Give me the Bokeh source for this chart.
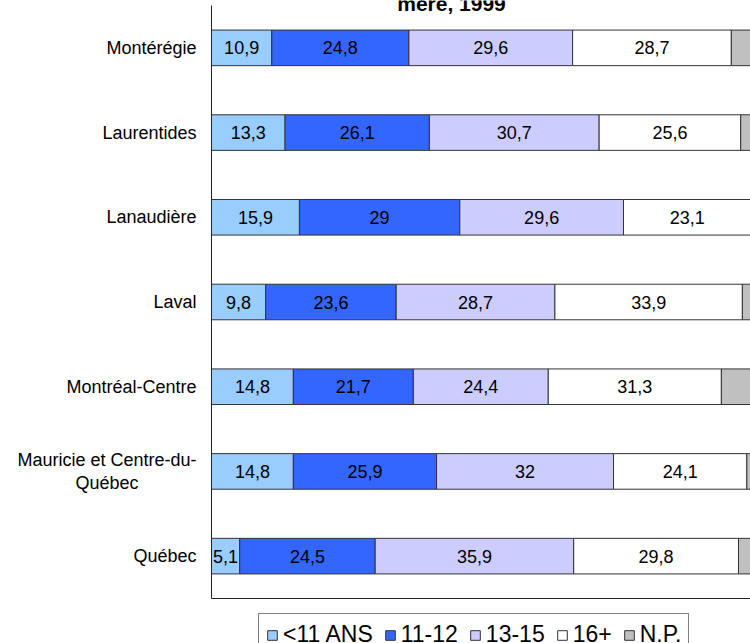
from bokeh.plotting import figure
from bokeh.models import ColumnDataSource, Range1d
from bokeh.embed import file_html
from bokeh.resources import INLINE
from bokeh.core.properties import value

# ---- data ----
regions = ["Montérégie", "Laurentides", "Lanaudière", "Laval",
           "Montréal-Centre", "Mauricie et Centre-du-Québec", "Québec"]
# category label lines as displayed (second line only for the wrapped label)
region_line1 = ["Montérégie", "Laurentides", "Lanaudière", "Laval",
                "Montréal-Centre", "Mauricie et Centre-du-", "Québec"]
region_line2 = ["", "", "", "", "", "Québec", ""]
lt11 = [10.9, 13.3, 15.9, 9.8, 14.8, 14.8, 5.1]
s11_12 = [24.8, 26.1, 29.0, 23.6, 21.7, 25.9, 24.5]
s13_15 = [29.6, 30.7, 29.6, 28.7, 24.4, 32.0, 35.9]
s16p = [28.7, 25.6, 23.1, 33.9, 31.3, 24.1, 29.8]
snp = [6.0, 4.3, 2.4, 4.0, 7.8, 3.2, 4.7]
series_names = ["<11 ANS", "11-12", "13-15", "16+", "N.P."]
series_keys = ["lt11", "s11_12", "s13_15", "s16p", "snp"]
colors = ["#99CCFF", "#3366FF", "#CCCCFF", "#FFFFFF", "#C0C0C0"]
title_text = "mère, 1999"

FONT = "Liberation Sans"
W, H = 750, 643
PLOT_LEFT, PLOT_BOTTOM, PLOT_TOP = 211, 598, 5   # plot area in pixels
PX_X = 5.53                                       # pixels per percentage point
n = len(regions)
PX_Y = (PLOT_BOTTOM - PLOT_TOP) / n               # pixels per category band

# category slot: first region at the top
ypos = [n - 0.5 - i for i in range(n)]

source = ColumnDataSource(dict(region=regions, y=ypos, lt11=lt11, s11_12=s11_12,
                               s13_15=s13_15, s16p=s16p, snp=snp))

x_start = -PLOT_LEFT / PX_X
x_end = (W - PLOT_LEFT) / PX_X
y_start = -(H - PLOT_BOTTOM) / PX_Y
y_end = PLOT_BOTTOM / PX_Y

p = figure(width=W, height=H, output_backend="svg", toolbar_location=None,
           x_range=Range1d(x_start, x_end), y_range=Range1d(y_start, y_end),
           min_border=0)
p.min_border_left = 0
p.min_border_right = 0
p.min_border_top = 0
p.min_border_bottom = 0
p.outline_line_color = None
p.background_fill_color = "white"
p.border_fill_color = "white"
p.xaxis.visible = False
p.yaxis.visible = False
p.xgrid.visible = False
p.ygrid.visible = False

p.hbar_stack(series_keys, y="y", height=0.42, color=colors,
             line_color="#333333", line_width=1, source=source,
             legend_label=series_names)

# axis lines of the plot area (left and bottom)
p.segment(x0=[0, 0], y0=[0, 0], x1=[0, x_end], y1=[n, 0],
          line_color="#222222", line_width=1)

# value labels (first four series)
lx, ly, lt = [], [], []
for i in range(n):
    left = 0.0
    for vals in (lt11, s11_12, s13_15, s16p):
        v = vals[i]
        lx.append(left + v / 2.0)
        ly.append(ypos[i])
        lt.append(f"{v:g}".replace(".", ","))
        left += v
lab_src = ColumnDataSource(dict(x=lx, y=ly, text=lt))
p.text(x="x", y="y", text="text", source=lab_src, text_font=value(FONT),
       text_font_size="18px", text_align="center", text_baseline="middle",
       text_color="black")

# category labels
cy, ct, cxo, cyo = [], [], [], []
for yy, l1, l2 in zip(ypos, region_line1, region_line2):
    if l2:
        cy += [yy, yy]
        ct += [l1, l2]
        cxo += [0, -58]
        cyo += [-11, 12]
    else:
        cy.append(yy)
        ct.append(l1)
        cxo.append(0)
        cyo.append(0)
cat_src = ColumnDataSource(dict(x=[-15 / PX_X] * len(cy), y=cy, text=ct, xo=cxo, yo=cyo))
p.text(x="x", y="y", text="text", x_offset="xo", y_offset="yo", source=cat_src,
       text_font=value(FONT), text_font_size="18px", text_align="right",
       text_baseline="middle", text_color="black")

# title (partly cut at the top in the reference)
p.text(x=[(451 - PLOT_LEFT) / PX_X], y=[(PLOT_BOTTOM - 3) / PX_Y], text=[title_text],
       text_font=value(FONT), text_font_size="21px", text_font_style="bold",
       text_align="center", text_baseline="alphabetic", text_color="black")

# legend (its lower edge runs off the bottom of the picture)
lg = p.legend[0]
lg.orientation = "horizontal"
lg.location = (258, -13)
lg.label_text_font = FONT
lg.label_text_font_size = "23px"
lg.label_text_color = "black"
lg.glyph_width = 12
lg.glyph_height = 12
lg.label_standoff = 5
lg.spacing = 11
lg.padding = 7
lg.margin = 0
lg.border_line_color = "black"
lg.border_line_width = 1
lg.background_fill_color = "white"
lg.background_fill_alpha = 1.0

open("out.html", "w").write(file_html(p, INLINE))
